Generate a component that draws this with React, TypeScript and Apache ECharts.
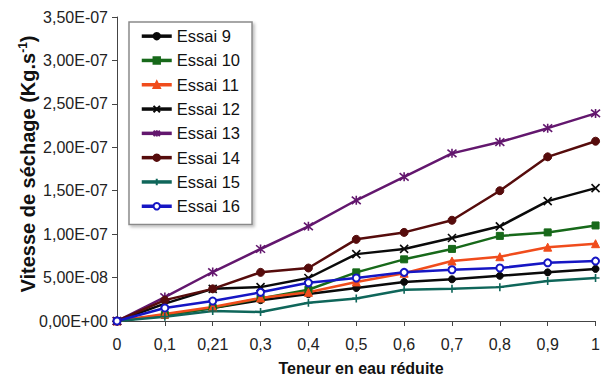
import React, { useEffect, useRef } from "react";
import * as echarts from "echarts";

const categories = ["0", "0,1", "0,21", "0,3", "0,4", "0,5", "0,6", "0,7", "0,8", "0,9", "1"];
// values in units of 1E-08 Kg.s-1
const essai9 = [0, 0.7, 1.5, 2.4, 3.1, 3.8, 4.5, 4.8, 5.2, 5.6, 6.0];
const essai10 = [0, 0.7, 1.5, 2.6, 3.6, 5.6, 7.1, 8.3, 9.8, 10.2, 11.0];
const essai11 = [0, 0.8, 1.6, 2.65, 3.3, 4.5, 5.5, 6.9, 7.4, 8.5, 8.9];
const essai12 = [0, 2.0, 3.7, 3.9, 4.95, 7.7, 8.3, 9.55, 10.9, 13.8, 15.3];
const essai13 = [0, 2.76, 5.64, 8.29, 10.9, 13.9, 16.6, 19.3, 20.6, 22.2, 23.9];
const essai14 = [0, 2.4, 3.7, 5.6, 6.1, 9.4, 10.2, 11.6, 15.0, 18.9, 20.7];
const essai15 = [0, 0.5, 1.15, 1.04, 2.1, 2.6, 3.6, 3.7, 3.9, 4.6, 4.95];
const essai16 = [0, 1.5, 2.3, 3.3, 4.4, 4.95, 5.6, 5.9, 6.1, 6.7, 6.9];
const yTickLabels = ["0,00E+00", "5,00E-08", "1,00E-07", "1,50E-07", "2,00E-07", "2,50E-07", "3,00E-07", "3,50E-07"];

const FONT = "'Liberation Sans', Arial, sans-serif";

const X_PATH = "path://M0,0L10,10M10,0L0,10";
const AST_PATH = "path://M0,0L10,10M10,0L0,10M5,-1L5,11";
const PLUS_PATH = "path://M5,0L5,10M0,5L10,5";

const seriesDefs = [
  { name: "Essai 9", data: essai9, color: "#0a0a0a", symbol: "circle", size: 7 },
  { name: "Essai 10", data: essai10, color: "#17691a", symbol: "rect", size: 7 },
  { name: "Essai 11", data: essai11, color: "#f04c1c", symbol: "triangle", size: 8 },
  { name: "Essai 12", data: essai12, color: "#0a0a0a", symbol: X_PATH, size: 8 },
  { name: "Essai 13", data: essai13, color: "#63176e", symbol: AST_PATH, size: 9 },
  { name: "Essai 14", data: essai14, color: "#560c0c", symbol: "circle", size: 8 },
  { name: "Essai 15", data: essai15, color: "#0f665a", symbol: PLUS_PATH, size: 8 },
  { name: "Essai 16", data: essai16, color: "#1616c4", symbol: "emptyCircle", size: 7 },
];

export default function App() {
  const ref = useRef<HTMLDivElement>(null);
  useEffect(() => {
    if (!ref.current) return;
    const chart = echarts.init(ref.current, null, { renderer: "svg" });
    chart.setOption({
      animation: false,
      backgroundColor: "#ffffff",
      grid: { left: 117, top: 17, right: 5, bottom: 60 },
      legend: {
        orient: "vertical",
        left: 129,
        top: 22,
        padding: [4, 12, 8, 11],
        itemGap: 4,
        itemWidth: 30,
        itemHeight: 8,
        borderColor: "#8a8a8a",
        borderWidth: 1.5,
        backgroundColor: "#ffffff",
        shadowColor: "rgba(0,0,0,0.25)",
        shadowBlur: 3,
        shadowOffsetX: 2,
        shadowOffsetY: 2,
        lineStyle: { width: 3.5 },
        textStyle: { fontFamily: FONT, fontSize: 16.5, lineHeight: 20.3, color: "#111" },
        data: seriesDefs.map((s) => s.name),
      },
      xAxis: {
        type: "category",
        data: categories,
        boundaryGap: false,
        axisLine: { lineStyle: { color: "#444", width: 1 } },
        axisTick: { show: true, alignWithLabel: true, length: 5, lineStyle: { color: "#444" } },
        axisLabel: { fontFamily: FONT, fontSize: 16, color: "#222", margin: 15, interval: 0 },
        splitLine: { show: false },
      },
      yAxis: {
        type: "value",
        min: 0,
        max: 35,
        interval: 5,
        axisLine: { show: true, lineStyle: { color: "#444", width: 1 } },
        axisTick: { show: true, length: 5, lineStyle: { color: "#444" } },
        axisLabel: {
          fontFamily: FONT,
          fontSize: 16,
          color: "#222",
          margin: 9,
          formatter: (v: number) => yTickLabels[Math.round(v / 5)] ?? "",
        },
        splitLine: { show: false },
      },
      graphic: [
        {
          type: "text",
          x: 28,
          y: 164,
          rotation: Math.PI / 2,
          style: {
            text: "{t|Vitesse de séchage (Kg.s}{s|-1}{t|)}",
            align: "center",
            verticalAlign: "middle",
            rich: {
              t: { fontFamily: FONT, fontWeight: "bold", fontSize: 20, fill: "#111" },
              s: { fontFamily: FONT, fontWeight: "bold", fontSize: 12, fill: "#111", verticalAlign: "top", padding: [0, 0, 10, 0] },
            },
          },
        },
        {
          type: "text",
          x: 361,
          y: 368,
          style: {
            text: "Teneur en eau réduite",
            align: "center",
            verticalAlign: "middle",
            fontFamily: FONT,
            fontWeight: "bold",
            fontSize: 16,
            fill: "#111",
          },
        },
      ],
      series: seriesDefs.map((s) => ({
        name: s.name,
        type: "line",
        data: s.data,
        symbol: s.symbol,
        symbolSize: s.size,
        showAllSymbol: true,
        lineStyle: { color: s.color, width: 2.5 },
        itemStyle: { color: s.color, borderColor: s.color, borderWidth: s.symbol.startsWith("path") ? 1.6 : 1 },
        emphasis: { disabled: true },
      })),
    });
    return () => chart.dispose();
  }, []);
  return <div ref={ref} style={{ position: "fixed", left: 0, top: 0, width: 603, height: 381 }} />;
}
